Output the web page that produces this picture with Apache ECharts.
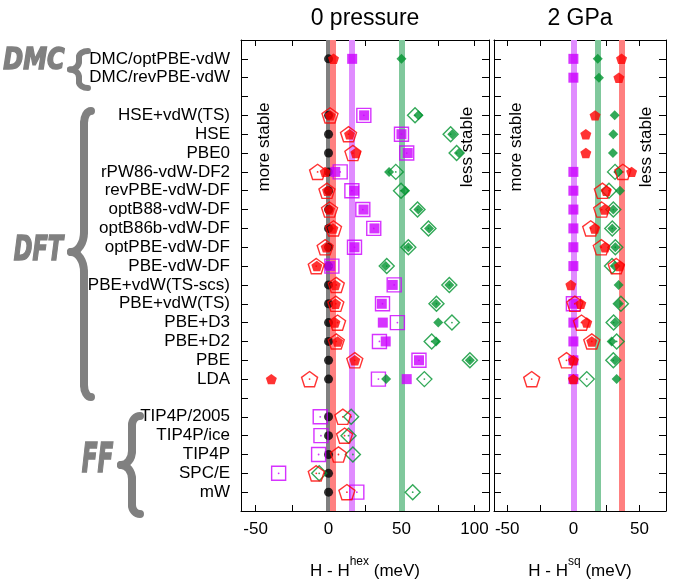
<!DOCTYPE html>
<html><head><meta charset="utf-8">
<script src="https://cdn.jsdelivr.net/npm/echarts@6/dist/echarts.min.js"></script>
<style>html,body{margin:0;padding:0;background:#fff}#c{width:689px;height:585px}</style>
</head><body><div id="c"></div>
<script>
const N = null;
const rowNames = ['DMC/optPBE-vdW','DMC/revPBE-vdW','','HSE+vdW(TS)','HSE','PBE0','rPW86-vdW-DF2','revPBE-vdW-DF','optB88-vdW-DF','optB86b-vdW-DF','optPBE-vdW-DF','PBE-vdW-DF','PBE+vdW(TS-scs)','PBE+vdW(TS)','PBE+D3','PBE+D2','PBE','LDA','','TIP4P/2005','TIP4P/ice','TIP4P','SPC/E','mW'];
const xTicksLeft = [-50,-25,0,25,50,75,100];
const xLabelsLeft = [-50,0,50,100];
const xTicksRight = [-50,-25,0,25,50];
const xLabelsRight = [-50,0,50];
const panelTitles = ['0 pressure','2 GPa'];

// 0 pressure: H - H^hex (meV)
const hex0   = [0,N,N,0,0,0,0,0,0,0,0,0,0,0,0,0,0,0,N,0,0,0,0,0];
const redF0  = [3.4,N,N,1.2,14.4,18.7,-2.3,-0.7,0.7,3.0,-1.6,-8.0,4.6,4.8,4.4,6.2,18,-39.2,N,N,N,N,N,N];
const redO0  = [N,N,N,1.0,13.7,16.7,-7.5,-1.1,0.7,3.4,-2.3,-8.4,5.3,5.0,6.2,5.3,18,-13,N,9.8,11,6.8,-8.4,12.6];
const vioF0  = [16.2,N,N,24.4,50,54.3,4.6,17.6,24,31.5,17.8,1.2,44,36.5,37.2,39.2,62,53.6,N,N,N,N,N,N];
const vioO0  = [N,N,N,24.2,50,53.6,8.0,16,23.5,31,17.8,2.3,45,37,47.2,34.9,62,34.2,N,-5.7,-5.2,-6.8,-34.2,19.4];
const grnF0  = [50,N,N,61.6,84.8,89.4,41.5,52.5,61.6,68.9,54.7,39.2,82.8,73.7,75.2,73.7,96.9,39.5,N,N,N,N,N,N];
const grnO0  = [N,N,N,59.3,83.7,87.8,46.1,49.7,61,68.5,54.7,39.9,82.8,74,84.6,70.7,96.9,65.7,N,15.5,13.7,16.7,-6.4,57.7];
const bands0 = [0, 3, 16.2, 50];           // hex, red, violet, green reference bands

// 2 GPa: H - H^sq (meV)
const vioF2  = [0,0,N,N,N,N,0,0,0,0,0,0,N,0,0,0,0,0,N,N,N,N,N,N];
const vioO2  = [N,N,N,N,N,N,N,N,N,N,N,N,N,0,N,N,N,N,N,N,N,N,N,N];
const redF2  = [36.4,34.4,N,16.4,9.4,9.4,44,24.9,23.6,16.1,23.9,34.9,-1.9,5.6,10.1,13.9,0,0,N,N,N,N,N,N];
const redO2  = [N,N,N,N,N,N,37.4,21.9,21.4,13.1,21.1,32.4,N,1.1,6.1,13.9,-5.2,-31.5,N,N,N,N,N,N];
const grnF2  = [18.4,19.3,N,31.2,30.2,29.9,33.9,35.2,30.2,29.4,31.7,31.2,34.2,34.4,31.4,28.9,31.4,32.7,N,N,N,N,N,N];
const grnO2  = [N,N,N,N,N,N,31.5,26.9,30.2,29.4,31.7,29.2,N,35.9,30.4,32.7,30.2,10.1,N,N,N,N,N,N];
const bands2 = [0, 18.5, 36.5];            // violet, green, red reference bands

const F = 'Liberation Sans, Arial, Helvetica, sans-serif';
const RED = '#ff0000', VIO = '#cc00ff', GRN = '#00932f', BLK = '#000000';
const PENT = 'path://M50,0 L97.55,34.55 L79.39,90.45 L20.61,90.45 L2.45,34.55 Z';

function pts(arr){ const o=[]; arr.forEach((v,i)=>{ if(v!==null) o.push([v,i]); }); return o; }
function sc(gi, arr, sym, size, color, open){
  return {type:'scatter', xAxisIndex:gi*2, yAxisIndex:gi*2, data:pts(arr), symbol:sym, symbolSize:size,
    symbolKeepAspect:true, silent:true, animation:false, z:10,
    itemStyle: open ? {color:'rgba(0,0,0,0)', borderColor:color, borderWidth:1.4} : {color:color, borderWidth:0}};
}
function dot(gi, arr, color){
  return {type:'scatter', xAxisIndex:gi*2, yAxisIndex:gi*2, data:pts(arr), symbol:'circle', symbolSize:1.8,
    silent:true, animation:false, z:10, itemStyle:{color:color}};
}
function bandSeries(gi, vals, colors){
  return {type:'scatter', xAxisIndex:gi*2, yAxisIndex:gi*2, data:[], silent:true, animation:false, z:1,
    markLine:{silent:true, z:1, symbol:['none','none'], animation:false, label:{show:false},
      data: vals.map((v,i)=>({xAxis:v, lineStyle:{color:colors[i], width:6, type:'solid', opacity:1}}))}};
}

const series = [
  bandSeries(0, bands0, ['#808080','#ff8080','#e08cff','#80c89c']),
  sc(0, hex0, 'circle', 9, BLK, false),
  sc(0, vioO0, 'rect', 14, VIO, true), dot(0, vioO0, VIO), sc(0, vioF0, 'rect', 10, VIO, false),
  sc(0, grnO0, 'diamond', 15, GRN, true), dot(0, grnO0, GRN), sc(0, grnF0, 'diamond', 10, GRN, false),
  sc(0, redO0, PENT, 16, RED, true), dot(0, redO0, RED), sc(0, redF0, PENT, 11, RED, false),
  bandSeries(1, bands2, ['#e08cff','#80c89c','#ff8080']),
  sc(1, vioO2, 'rect', 14, VIO, true), sc(1, vioF2, 'rect', 10, VIO, false),
  sc(1, grnO2, 'diamond', 15, GRN, true), dot(1, grnO2, GRN), sc(1, grnF2, 'diamond', 10, GRN, false),
  sc(1, redO2, PENT, 16, RED, true), dot(1, redO2, RED), sc(1, redF2, PENT, 11, RED, false)
];

const axLine = {show:true, onZero:false, lineStyle:{color:'#000', width:1}};
function xAx(gi, min, max, ticks, labels, pos, name){
  const o = {gridIndex:gi, type:'value', min:min, max:max, position:pos,
    axisLine:axLine, splitLine:{show:false},
    axisTick:{show:true, inside:true, length:6, customValues:ticks, lineStyle:{color:'#000'}},
    axisLabel:{show:pos==='bottom', customValues:labels, fontSize:17, fontFamily:F, color:'#000', margin:10}};
  if (name) {
    o.name = name; o.nameLocation = 'middle'; o.nameGap = 45;
    o.nameTextStyle = {rich:{
      a:{fontSize:17, fontFamily:F, color:'#000', lineHeight:24, verticalAlign:'bottom'},
      b:{fontSize:12, fontFamily:F, color:'#000', lineHeight:12, verticalAlign:'top'}}};
  }
  return o;
}
function yAx(gi, pos, labels){
  return {gridIndex:gi, type:'value', min:-1, max:24, interval:1, inverse:true, position:pos,
    axisLine:axLine, splitLine:{show:false},
    axisTick:{show:true, inside:true, length:7, lineStyle:{color:'#000'}},
    axisLabel:{show:labels, fontSize:17, fontFamily:F, color:'#000', margin:11,
      formatter:(v)=> (v>=0 && v<rowNames.length) ? rowNames[v] : ''}};
}

function txt(x, y, s, size, opts){
  opts = opts || {};
  const style = Object.assign({text:s, fontSize:size, fontFamily:F, fill:'#000',
      align:'center', verticalAlign:'middle', textAlign:'center', textVerticalAlign:'middle'}, opts.style || {});
  const el = {type:'text', x:x, y:y, silent:true, z:50, style:style};
  if (opts.rotation !== undefined) el.rotation = opts.rotation;
  if (opts.scaleX !== undefined) el.scaleX = opts.scaleX;
  return el;
}
function brace(xr, xs, xt, yt, yb, ym, r, r2, lw){
  const st = {stroke:'#808080', lineWidth:lw, fill:null, lineCap:'round'};
  const k = 0.552;
  return [
    {type:'bezierCurve', silent:true, shape:{x1:xr,y1:yt, cpx1:xr-k*(xr-xs),cpy1:yt, cpx2:xs,cpy2:yt+r-k*r, x2:xs,y2:yt+r}, style:st},
    {type:'line', silent:true, shape:{x1:xs,y1:yt+r,x2:xs,y2:ym-r2}, style:st},
    {type:'bezierCurve', silent:true, shape:{x1:xs,y1:ym-r2, cpx1:xs,cpy1:ym-r2+k*r2, cpx2:xt+k*(xs-xt),cpy2:ym, x2:xt,y2:ym}, style:st},
    {type:'bezierCurve', silent:true, shape:{x1:xt,y1:ym, cpx1:xt+k*(xs-xt),cpy1:ym, cpx2:xs,cpy2:ym+r2-k*r2, x2:xs,y2:ym+r2}, style:st},
    {type:'line', silent:true, shape:{x1:xs,y1:ym+r2,x2:xs,y2:yb-r}, style:st},
    {type:'bezierCurve', silent:true, shape:{x1:xs,y1:yb-r, cpx1:xs,cpy1:yb-r+k*r, cpx2:xr-k*(xr-xs),cpy2:yb, x2:xr,y2:yb}, style:st}
  ];
}
const gstyle = {fill:'#808080', stroke:'#808080', lineWidth:1.6, fontWeight:'bold', fontStyle:'italic', fontFamily:'DejaVu Sans, sans-serif'};
const graphics = [
  txt(365, 19, panelTitles[0], 23),
  txt(580, 19, panelTitles[1], 23),
  txt(264.5, 147, 'more stable', 17, {rotation:Math.PI/2}),
  txt(467.5, 147, 'less stable', 17, {rotation:Math.PI/2}),
  txt(516.5, 147, 'more stable', 17, {rotation:Math.PI/2}),
  txt(646.5, 147, 'less stable', 17, {rotation:Math.PI/2}),
  txt(34, 61, 'DMC', 30, {scaleX:0.8, style:gstyle}),
  txt(38.5, 251, 'DFT', 34, {scaleX:0.66, style:gstyle}),
  txt(97.5, 462, 'FF', 40, {scaleX:0.58, style:gstyle})
].concat(brace(88, 79, 70, 51, 88, 69.5, 6, 8, 6))
 .concat(brace(91, 84, 71, 111, 397, 252, 12, 20, 8))
 .concat(brace(140, 132, 121, 416, 514, 465, 9, 14, 8));

const chart = echarts.init(document.getElementById('c'), null, {renderer:'canvas'});
chart.setOption({
  animation:false,
  backgroundColor:'#fff',
  grid:[{left:241, top:40, width:248, height:483}, {left:494, top:40, width:172, height:483}],
  xAxis:[
    xAx(0, -60, 110, xTicksLeft, xLabelsLeft, 'bottom', '{a|H - H}{b|hex}{a| (meV)}'),
    xAx(0, -60, 110, xTicksLeft, xLabelsLeft, 'top'),
    xAx(1, -60, 70, xTicksRight, xLabelsRight, 'bottom', '{a|H - H}{b|sq}{a| (meV)}'),
    xAx(1, -60, 70, xTicksRight, xLabelsRight, 'top')
  ],
  yAxis:[ yAx(0,'left',true), yAx(0,'right',false), yAx(1,'left',false), yAx(1,'right',false) ],
  series: series,
  graphic: graphics
});
</script></body></html>
